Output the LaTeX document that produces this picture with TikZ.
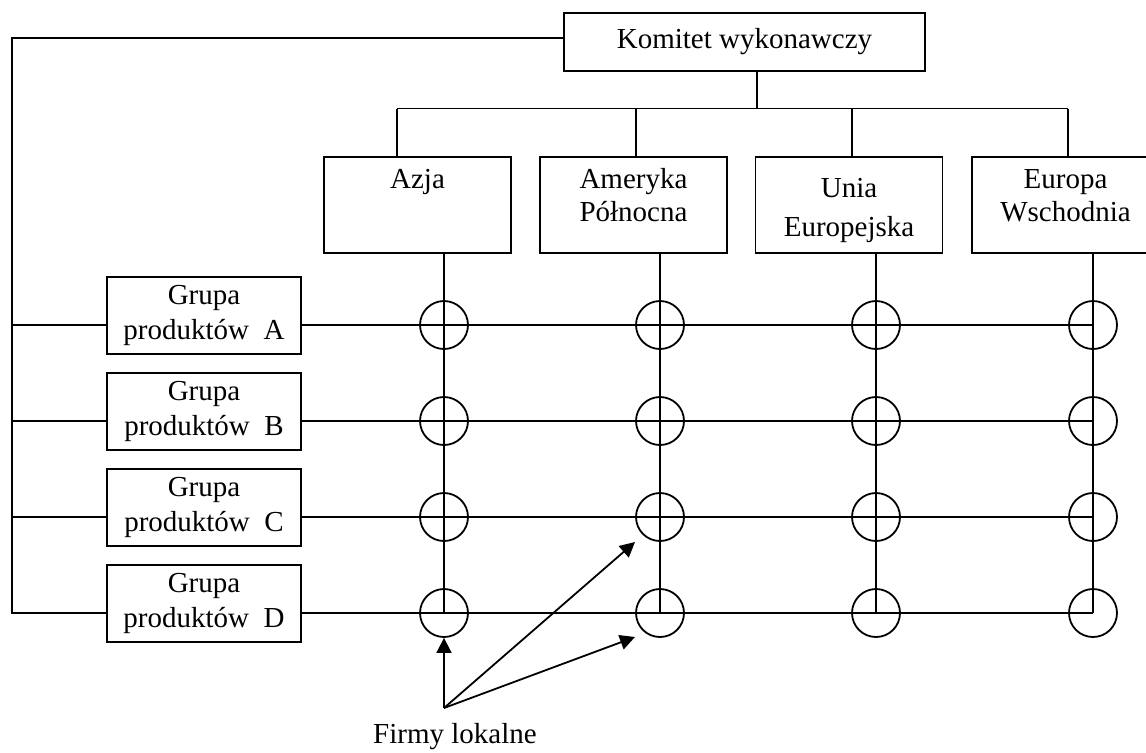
\documentclass[tikz,border=0pt]{standalone}
\usepackage{fontspec}
\setmainfont{Liberation Serif}
\usetikzlibrary{arrows.meta, positioning}
\tikzset{
  topbox/.style = {rectangle, draw=black, line width=0.9pt,
                   minimum width=180.5pt, minimum height=29pt, inner sep=0pt},
  regbox/.style = {rectangle, draw=black, line width=0.9pt,
                   minimum width=93.5pt, inner sep=0pt,
                   text height=15.5pt, text depth=32.5pt},
  grpbox/.style = {rectangle, draw=black, line width=0.9pt,
                   minimum width=97pt, minimum height=38.5pt,
                   inner sep=0pt, align=center},
  firm/.style   = {circle, draw=black, line width=0.9pt,
                   minimum size=24pt, inner sep=0pt},
  ->/.style     = {line width=0.9pt, -{Triangle[length=7.5pt,width=7.5pt]}}
}

\begin{document}
\begin{tikzpicture}[
    x=0.5pt, y=-0.5pt,
    line width=0.9pt,
    font=\fontsize{14.5pt}{16.5pt}\selectfont
]
\useasboundingbox (0,0) rectangle (1146,752);

% Committee on top
\node[topbox] at (744.5, 41.7) (komitet) {Komitet wykonawczy};

% Regions
\node[regbox] at (417.5, 205) (azja) {\parbox[t]{93pt}{\centering Azja}};
\node[regbox] at (633.5, 205) (ameryka) {\parbox[t]{93pt}{\centering Ameryka\\P\'o\l{}nocna}};
\node[regbox, text height=20pt, text depth=28pt
] at (849, 205) (unia) {\parbox[t]{93pt}{\centering Unia\\[3pt]Europejska}};
\node[regbox] at (1065.5, 205) (europa) {\parbox[t]{93pt}{\centering Europa\\Wschodnia}};

\draw (757,0 |- komitet.south) -- (757,108.5);
\draw (397,108.5) -- (1068,108.5);
\draw (397,108.5) -- (397,0 |- azja.north);
\draw (636,108.5) -- (636,0 |- ameryka.north);
\draw (852,108.5) -- (852,0 |- unia.north);
\draw (1068,108.5) -- (1068,0 |- europa.north);

% Product groups
\node[grpbox] at (204, 315.5) (grpA) {Grupa\\[1pt]produkt\'ow~ A};
\node[grpbox] at (204, 411.5) (grpB) {Grupa\\[1pt]produkt\'ow~ B};
\node[grpbox] at (204, 507.5) (grpC) {Grupa\\[1pt]produkt\'ow~ C};
\node[grpbox] at (204, 603.5) (grpD) {Grupa\\[1pt]produkt\'ow~ D};

\draw (komitet.west |- 0,38) -- (12,38) -- (12,613) -- (grpD.west |- 0,613);
\draw (12,325) -- (grpA.west |- 0,325);
\draw (12,421) -- (grpB.west |- 0,421);
\draw (12,517) -- (grpC.west |- 0,517);

% Matrix lines
\draw (grpA.east |- 0,325) -- (1093,325);
\draw (grpB.east |- 0,421) -- (1093,421);
\draw (grpC.east |- 0,517) -- (1093,517);
\draw (grpD.east |- 0,613) -- (1093,613);

\draw (444,0 |- azja.south) -- (444,613);
\draw (660,0 |- ameryka.south) -- (660,613);
\draw (876,0 |- unia.south) -- (876,613);
\draw (1093,0 |- europa.south) -- (1093,613);

% Local firms
\node[firm] at (444,325) (fA1) {};
\node[firm] at (660,325) (fA2) {};
\node[firm] at (876,325) (fA3) {};
\node[firm] at (1093,325) (fA4) {};
\node[firm] at (444,421) (fB1) {};
\node[firm] at (660,421) (fB2) {};
\node[firm] at (876,421) (fB3) {};
\node[firm] at (1093,421) (fB4) {};
\node[firm] at (444,517) (fC1) {};
\node[firm] at (660,517) (fC2) {};
\node[firm] at (876,517) (fC3) {};
\node[firm] at (1093,517) (fC4) {};
\node[firm] at (444,613) (fD1) {};
\node[firm] at (660,613) (fD2) {};
\node[firm] at (876,613) (fD3) {};
\node[firm] at (1093,613) (fD4) {};

\node at (455,737) (firmy) {Firmy lokalne};
\coordinate (src) at (444,708);
\coordinate (tipC) at (635,542);
\coordinate (tipD) at (635,637);

\draw[->] (src) -- (fD1.south);
\draw[->] (src) -- (tipC);
\draw[->] (src) -- (tipD);

\end{tikzpicture}
\end{document}
